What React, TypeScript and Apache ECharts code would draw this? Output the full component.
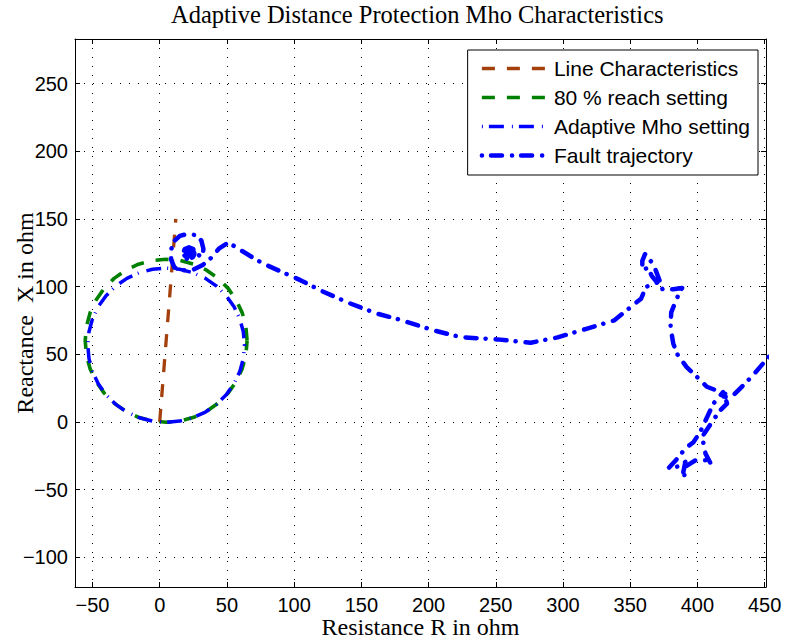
import React, { useEffect, useRef } from 'react';
import * as echarts from 'echarts';

const TITLE = 'Adaptive Distance Protection Mho Characteristics';
const X_NAME = 'Resistance R in ohm';
const Y_NAME = 'Reactance  X in ohm';
const SERIES_NAMES = ['Line Characteristics', '80 % reach setting', 'Adaptive Mho setting', 'Fault trajectory'];

const xRange = [-63, 451];
const yRange = [-122, 283];
const tickStep = 50;

// [R, X] pairs
const lineCharacteristics = [[0, 0], [12, 150]];

const reachSetting80 = [
  [65.0, 60.0], [64.1, 70.5], [61.4, 80.6], [56.9, 90.1], [50.9, 98.7], [43.5, 106.1],
  [34.9, 112.1], [25.4, 116.6], [15.3, 119.3], [4.8, 120.2], [-5.7, 119.3], [-15.8, 116.6],
  [-25.3, 112.1], [-33.9, 106.1], [-41.3, 98.7], [-47.3, 90.1], [-51.8, 80.6], [-54.5, 70.5],
  [-55.4, 60.0], [-54.5, 49.5], [-51.8, 39.4], [-47.3, 29.9], [-41.3, 21.3], [-33.9, 13.9],
  [-25.3, 7.9], [-15.8, 3.4], [-5.7, 0.7], [4.8, -0.2], [15.3, 0.7], [25.4, 3.4],
  [34.9, 7.9], [43.5, 13.9], [50.9, 21.3], [56.9, 29.9], [61.4, 39.4], [64.1, 49.5], [65.0, 60.0],
];

const adaptiveMho = [
  [63.1, 56.7], [62.2, 66.6], [59.6, 76.2], [55.3, 85.2], [49.5, 93.3], [42.3, 100.4],
  [34.0, 106.1], [24.7, 110.3], [14.9, 112.8], [4.8, 113.7], [-5.3, 112.8], [-15.1, 110.3],
  [-24.4, 106.1], [-32.7, 100.4], [-39.9, 93.3], [-45.7, 85.2], [-50.0, 76.2], [-52.6, 66.6],
  [-53.5, 56.7], [-52.6, 46.8], [-50.0, 37.2], [-45.7, 28.2], [-39.9, 20.1], [-32.7, 13.0],
  [-24.4, 7.3], [-15.1, 3.1], [-5.3, 0.6], [4.8, -0.3], [14.9, 0.6], [24.7, 3.1],
  [34.0, 7.3], [42.3, 13.0], [49.5, 20.1], [55.3, 28.2], [59.6, 37.2], [62.2, 46.8], [63.1, 56.7],
];

const faultTrajectory = [
  [453, 48], [440, 33], [427, 20], [420, 21], [417, 19], [421, 18.5], [419, 22], [412, 13.7],
  [406, 1], [402, -7.5], [397, -15], [391, -19.5], [386, -26], [378.4, -34.3], [385, -33],
  [391, -29.6], [389.5, -37], [390, -42], [391, -33], [398.5, -28.4], [408, -28.4], [410, -31],
  [406, -23.4], [403.5, -11], [412, 1.7], [417, 8.6], [422, 13.5], [420, 21], [407, 26],
  [398.5, 34.4], [392, 40.5], [385, 50], [382, 58], [380, 70], [380.5, 81], [385, 92],
  [388.6, 99], [382, 98], [374, 98], [372, 104], [369, 112], [366, 118], [361, 124], [359, 119],
  [359, 112], [363, 114], [366, 108], [370, 103], [366, 101], [362, 100], [358, 91], [338, 75],
  [318, 69], [296, 62.5], [276, 58.5], [251, 61], [224, 62.6], [204, 67.6], [177, 76], [162, 80],
  [140.5, 88], [120, 97], [105, 104.6], [77, 117], [70, 121], [51, 132.6], [44, 128], [38, 121],
  [32, 116], [25, 112.5], [18, 112], [11, 114], [8.5, 120], [8.5, 127], [10, 133], [15, 137.5],
  [21, 139], [27, 138], [31, 134], [32.5, 128], [32, 122], [27, 124],
  [26.3, 124.5], [25.0, 127.7], [21.8, 129.0], [18.6, 127.7], [17.3, 124.5], [18.6, 121.3], [21.8, 120.0], [25.0, 121.3],
  [25.8, 124.5], [24.6, 127.3], [21.8, 128.5], [19.0, 127.3], [17.8, 124.5], [19.0, 121.7], [21.8, 120.5], [24.6, 121.7],
  [25.1, 124.5], [24.1, 126.8], [21.8, 127.8], [19.5, 126.8], [18.5, 124.5], [19.5, 122.2], [21.8, 121.2], [24.1, 122.2],
  [24.4, 124.5], [23.6, 126.3], [21.8, 127.1], [20.0, 126.3], [19.2, 124.5], [20.0, 122.7], [21.8, 121.9], [23.6, 122.7],
  [23.7, 124.5], [23.1, 125.8], [21.8, 126.4], [20.5, 125.8], [19.9, 124.5], [20.5, 123.2], [21.8, 122.6], [23.1, 123.2],
  [23.0, 124.5], [22.6, 125.3], [21.8, 125.7], [21.0, 125.3], [20.6, 124.5], [21.0, 123.7], [21.8, 123.3], [22.6, 123.7],
  [22.4, 124.5], [21.8, 125.1], [21.2, 124.5], [21.8, 123.9], [21.8, 124.5],
];

const COLORS = ['#a3400c', '#008000', '#0000ff', '#0000ff'];

const tickFormatter = (v: number) => {
  if (Math.abs(v / tickStep - Math.round(v / tickStep)) > 1e-6) return '';
  return v < 0 ? '\u2212' + Math.abs(v) : String(v);
};

const SANS = '"Liberation Sans", Arial, sans-serif';
const SERIF = '"Liberation Serif", "Times New Roman", serif';

function axisBase(range: number[], split: number) {
  return {
    type: 'value',
    min: range[0],
    max: range[1],
    splitNumber: split,
    axisLine: { show: true, onZero: false, lineStyle: { color: '#000', width: 1 } },
    axisTick: { show: true, inside: true, length: 5, interval: 0, lineStyle: { color: '#000', width: 1 } },
  };
}

export default function App() {
  const ref = useRef<HTMLDivElement>(null);
  useEffect(() => {
    if (!ref.current) return;
    const chart = echarts.init(ref.current, undefined, { renderer: 'svg' });
    const labelStyle = { fontFamily: SANS, fontSize: 20, color: '#000' };
    const gridLine = { show: true, lineStyle: { color: '#000', width: 1, type: [1, 8] } };
    const option: any = {
      animation: false,
      backgroundColor: '#fff',
      title: {
        text: TITLE,
        left: 171,
        top: 2,
        padding: 0,
        textStyle: { fontFamily: SERIF, fontSize: 24.5, fontWeight: 'normal', color: '#000' },
      },
      grid: { left: 75, right: 21, top: 39, bottom: 54, containLabel: false, outerBoundsMode: 'none' },
      legend: {
        orient: 'vertical',
        right: 29,
        top: 50,
        padding: [8, 8, 9, 12],
        itemGap: 8,
        itemWidth: 63,
        itemHeight: 20,
        borderColor: '#000',
        borderWidth: 1,
        backgroundColor: '#fff',
        itemStyle: { color: 'rgba(0,0,0,0)', borderColor: 'rgba(0,0,0,0)', borderWidth: 0 },
        lineStyle: { width: 'inherit' },
        textStyle: { fontFamily: SANS, fontSize: 21, color: '#000', padding: [0, 0, 0, 4] },
        data: SERIES_NAMES,
      },
      xAxis: [
        {
          ...axisBase(xRange, 10),
          position: 'bottom',
          axisLabel: { ...labelStyle, interval: 0, margin: 8, formatter: tickFormatter },
          splitLine: gridLine,
          name: X_NAME,
          nameLocation: 'middle',
          nameGap: 28,
          nameMoveOverlap: false,
          nameTextStyle: { fontFamily: SERIF, fontSize: 24, color: '#000' },
        },
        {
          ...axisBase(xRange, 10),
          position: 'top',
          axisLabel: { show: false },
          splitLine: { show: false },
        },
      ],
      yAxis: [
        {
          ...axisBase(yRange, 8),
          position: 'left',
          axisLabel: { ...labelStyle, interval: 0, margin: 7, formatter: tickFormatter },
          splitLine: gridLine,
          name: Y_NAME,
          nameLocation: 'middle',
          nameGap: 38,
          nameMoveOverlap: false,
          nameTextStyle: { fontFamily: SERIF, fontSize: 24, color: '#000' },
        },
        {
          ...axisBase(yRange, 8),
          position: 'right',
          axisLabel: { show: false },
          splitLine: { show: false },
        },
      ],
      series: [
        {
          name: SERIES_NAMES[0],
          type: 'line',
          data: lineCharacteristics,
          symbol: 'none',
          showSymbol: false,
          color: COLORS[0],
          lineStyle: { color: COLORS[0], width: 3.3, type: [13, 12], cap: 'butt' },
          z: 3,
        },
        {
          name: SERIES_NAMES[1],
          type: 'line',
          data: reachSetting80,
          symbol: 'none',
          showSymbol: false,
          color: COLORS[1],
          lineStyle: { color: COLORS[1], width: 3.6, type: [13, 12], cap: 'butt' },
          z: 2,
        },
        {
          name: SERIES_NAMES[2],
          type: 'line',
          data: adaptiveMho,
          symbol: 'none',
          showSymbol: false,
          color: COLORS[2],
          lineStyle: { color: COLORS[2], width: 3.5, type: [1, 6, 15, 8], cap: 'butt' },
          z: 4,
        },
        {
          name: SERIES_NAMES[3],
          type: 'line',
          data: faultTrajectory,
          symbol: 'none',
          showSymbol: false,
          color: COLORS[3],
          lineStyle: { color: COLORS[3], width: 4.5, type: [0.1, 9, 11, 10], cap: 'round', join: 'round' },
          z: 5,
        },
      ],
    };
    chart.setOption(option);
    return () => chart.dispose();
  }, []);
  return (
    <div
      ref={ref}
      style={{ position: 'fixed', left: 0, top: 0, width: 787, height: 641, background: '#fff' }}
    />
  );
}
